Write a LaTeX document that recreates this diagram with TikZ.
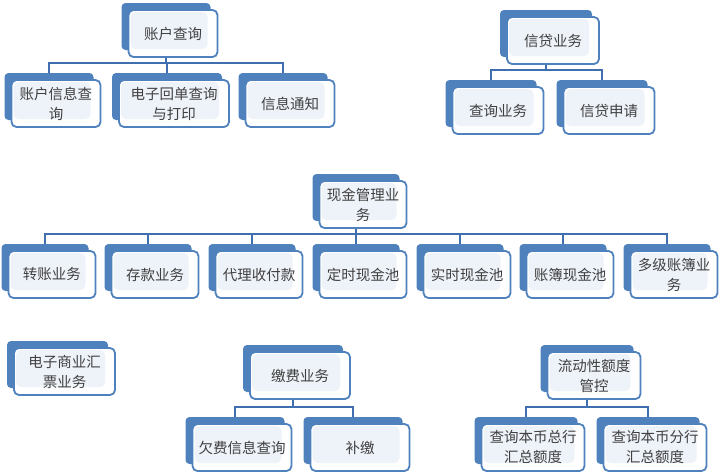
\documentclass[tikz,border=0pt]{standalone}
\usepackage{fontspec}
\newfontfamily\cjk{Noto Sans CJK SC}
\usetikzlibrary{backgrounds}
\definecolor{boxblue}{HTML}{4F81BD}
\definecolor{linkblue}{HTML}{3F6FAE}
\definecolor{boxfill}{HTML}{EEF2F9}
\definecolor{textgrey}{HTML}{404040}
\tikzset{%
  back box/.style={
    fill=boxblue,
    rounded corners=4pt,
    minimum height=47pt,
    inner sep=0pt
  },
  front box/.style={
    draw=boxblue,
    line width=1.8pt,
    rounded corners=5pt,
    fill=white,
    minimum height=47pt,
    inner sep=0pt,
    align=center,
    text=textgrey,
    font=\cjk\fontsize{14.5}{20}\selectfont,
    path picture={\fill [boxfill]
      ([shift={(2pt,-2pt)}]path picture bounding box.north west) rectangle
      ([shift={(-10pt,8pt)}]path picture bounding box.south east);}
  },
  link/.style={
    draw=linkblue,
    line width=1.8pt
  },
}

\begin{document}
\begin{tikzpicture}[x=1pt, y=-1pt]
  \useasboundingbox (0,0) rectangle (720,472);

  % name/x/y/width/text
  \foreach \n/\x/\y/\w/\t in {
      acct/166/26.5/89/账户查询,
      info/49/96.5/89/{账户信息查\\询},
      receipt/167/96.5/110/{电子回单查询\\与打印},
      notice/283/96.5/89/信息通知,
      credit/546/33.5/92/信贷业务,
      query/491/103.5/91/查询业务,
      apply/602/103.5/91/信贷申请,
      cash/356/197.5/87/{现金管理业\\务},
      transfer/45/267.5/87/转账业务,
      deposit/148/267.5/87/存款业务,
      agency/252/267.5/87/代理收付款,
      fixedpool/356/267.5/87/定时现金池,
      rtpool/460/267.5/87/实时现金池,
      ledgerpool/563/267.5/87/账簿现金池,
      multiledger/667/267.5/87/{多级账簿业\\务},
      ecds/57.5/364.5/101/{电子商业汇\\票业务},
      fee/293/368.5/100/缴费业务,
      arrears/235/440.5/99/欠费信息查询,
      repay/353/440.5/99/补缴,
      liq/587/368.5/93/{流动性额度\\管控},
      headq/526/440.5/103/{查询本币总行\\汇总额度},
      branchq/648/440.5/103/{查询本币分行\\汇总额度}}
  {
    \node [back box, minimum width=\w] (\n-b) at (\x,\y) {};
    \node [front box, minimum width=\w] (\n) at (\x+7,\y+7) {\t};
  }

  \begin{scope}[on background layer]
    \foreach \p/\c in {acct/info, acct/receipt, acct/notice,
        credit/query, credit/apply,
        cash/transfer, cash/deposit, cash/agency, cash/fixedpool,
        cash/rtpool, cash/ledgerpool, cash/multiledger,
        fee/arrears, fee/repay,
        liq/headq, liq/branchq}
      \draw [link] (\p-b.center) |- ([yshift=10pt]\c-b.north) -- (\c-b.north);
  \end{scope}

\end{tikzpicture}
\end{document}
